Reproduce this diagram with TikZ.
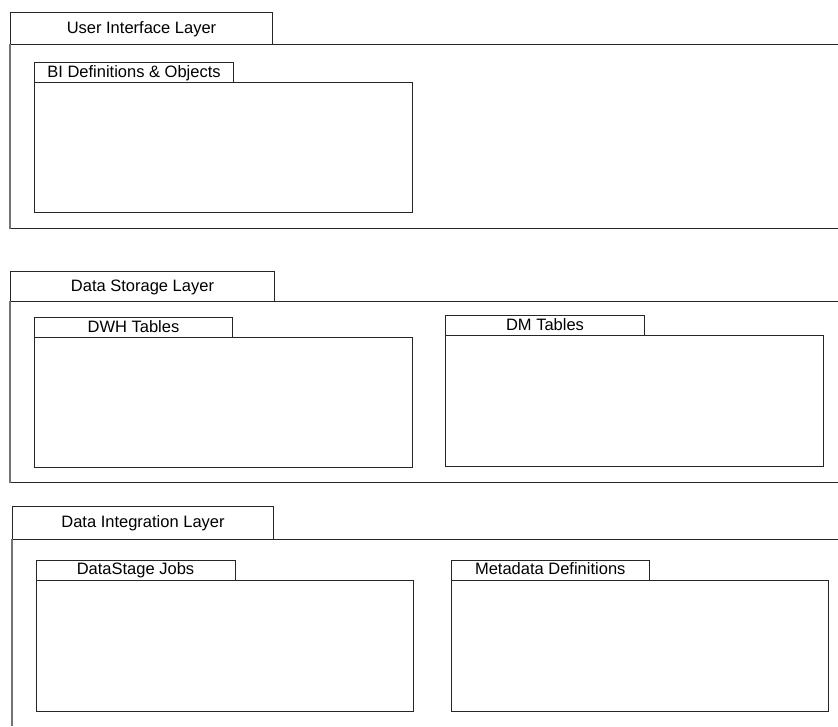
\documentclass[tikz,border=0pt]{standalone}
\usepackage{fontspec}
\setmainfont{Liberation Sans}
\begin{document}
\begin{tikzpicture}[x=1pt,y=-1pt,
  line/.style={draw=black!85, line width=1pt},
  sideline/.style={draw=black!55, line width=1.6pt},
  tabbox/.style={line, anchor=north west, inner sep=0pt, align=center,
    font=\fontsize{16.5}{20}\selectfont, text height=12pt, text depth=3pt},
  pkgbox/.style={line, anchor=north west, inner sep=0pt}]
  \useasboundingbox (0,0) rectangle (838,726);

  % --- User Interface Layer ---
  \node[tabbox, minimum width=262pt, minimum height=32pt] (uiTab) at (10,12) {User Interface Layer};
  \coordinate (uiTL) at (10,44);
  \coordinate (uiTR) at (838,44);
  \coordinate (uiBL) at (10,228.5);
  \coordinate (uiBR) at (838,228.5);
  \draw[line] (uiTL) -- (uiTR);
  \draw[line] (uiBL) -- (uiBR);
  \draw[sideline] (uiTL) -- (uiBL);
  \node[tabbox, minimum width=199pt, minimum height=20pt] (biTab) at (34,62) {BI Definitions \& Objects};
  \node[pkgbox, minimum width=378pt, minimum height=130pt] (biBox) at (34,82) {};

  % --- Data Storage Layer ---
  \node[tabbox, minimum width=264pt, minimum height=30pt] (dsTab) at (10,271) {Data Storage Layer};
  \coordinate (dsTL) at (10,301);
  \coordinate (dsTR) at (838,301);
  \coordinate (dsBL) at (10,482.5);
  \coordinate (dsBR) at (838,482.5);
  \draw[line] (dsTL) -- (dsTR);
  \draw[line] (dsBL) -- (dsBR);
  \draw[sideline] (dsTL) -- (dsBL);
  \node[tabbox, minimum width=198pt, minimum height=20pt] (dwhTab) at (34,317) {DWH Tables};
  \node[pkgbox, minimum width=378pt, minimum height=129.5pt] (dwhBox) at (34,337) {};
  \node[tabbox, minimum width=199pt, minimum height=20pt] (dmTab) at (445,315) {DM Tables};
  \node[pkgbox, minimum width=378pt, minimum height=130.5pt] (dmBox) at (445,335) {};

  % --- Data Integration Layer ---
  \node[tabbox, minimum width=261pt, minimum height=33pt] (diTab) at (12,506) {Data Integration Layer};
  \coordinate (diTL) at (12,539);
  \coordinate (diTR) at (838,539);
  \coordinate (diBL) at (12,726);
  \draw[line] (diTL) -- (diTR);
  \draw[sideline] (diTL) -- (diBL);
  \node[tabbox, minimum width=199pt, minimum height=20.5pt] (jobsTab) at (35.5,559.5) {DataStage Jobs};
  \node[pkgbox, minimum width=377.5pt, minimum height=130.5pt] (jobsBox) at (35.5,580) {};
  \node[tabbox, minimum width=198.5pt, minimum height=20.5pt] (metaTab) at (450.5,559.5) {Metadata Definitions};
  \node[pkgbox, minimum width=377.5pt, minimum height=130.5pt] (metaBox) at (450.5,580) {};
\end{tikzpicture}
\end{document}
